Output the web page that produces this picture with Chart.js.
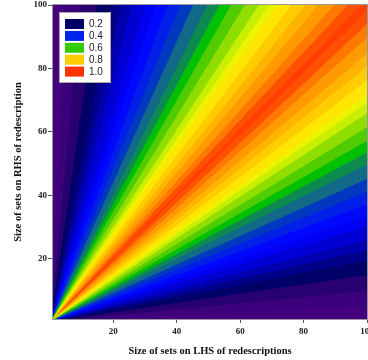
<!DOCTYPE html>
<html>
<head>
<meta charset="utf-8">
<script src="https://cdn.jsdelivr.net/npm/chart.js@4.4.1/dist/chart.umd.min.js"></script>
<style>
  html, body { margin: 0; padding: 0; background: #fff; overflow: hidden; }
  #wrap { width: 368px; height: 360px; overflow: hidden; }
</style>
</head>
<body>
<div id="wrap"><canvas id="myChart" width="374" height="360"></canvas></div>
<script>
// contour bands of the ratio smaller set / larger set
const bandEdges = [0, 0.05, 0.096, 0.147, 0.193, 0.225, 0.258, 0.3, 0.333, 0.37, 0.41, 0.45, 0.495, 0.533, 0.57, 0.613, 0.657, 0.69, 0.715, 0.76, 0.804, 0.845, 0.895, 0.938, 0.98, 1];
const bandColors = [
  "#44007f", "#3d007d", "#28006f", "#000068", "#000088", "#0000b0", "#0000d4", "#0000f2",
  "#0008ff", "#0020e8", "#0038c0", "#106a88", "#0d8a50", "#00c000", "#50cc00", "#90dd00",
  "#c8ee00", "#ecf400", "#ffe600", "#ffcc00", "#ffb400", "#ff9a00", "#ff7800", "#ff5000",
  "#ff4000",
];
const tickValues = [20, 40, 60, 80, 100];
const axisMin = 1;
const axisMax = 100;
const legendLabels = ["0.2", "0.4", "0.6", "0.8", "1.0"];
const legendColors = ["#000066", "#0022ee", "#33cc00", "#ffcc00", "#ff3300"];

const serif = "'Liberation Serif', 'Times New Roman', serif";
const sans = "'Liberation Sans', Arial, sans-serif";

const datasets = [];
for (let i = 0; i < bandEdges.length - 1; i++) {
  const a = bandEdges[i];
  const b = bandEdges[i + 1];
  const col = bandColors[i];
  // wedge above the diagonal (RHS larger) and below it (LHS larger)
  const upper = [
    { x: 0, y: 0 },
    { x: axisMax * a, y: axisMax },
    { x: axisMax * b, y: axisMax },
    { x: 0, y: 0 },
  ];
  const lower = [
    { x: 0, y: 0 },
    { x: axisMax, y: axisMax * a },
    { x: axisMax, y: axisMax * b },
    { x: 0, y: 0 },
  ];
  [upper, lower].forEach((pts) => {
    datasets.push({
      data: pts,
      showLine: true,
      fill: "shape",
      backgroundColor: col,
      borderColor: col,
      borderWidth: 1,
      pointRadius: 0,
      tension: 0,
      clip: 0,
    });
  });
}

const boxAndLegend = {
  id: "boxAndLegend",
  afterDraw(chart) {
    const { ctx, chartArea } = chart;
    ctx.save();
    ctx.strokeStyle = "#999";
    ctx.lineWidth = 1;
    ctx.strokeRect(chartArea.left - 0.5, chartArea.top - 0.5, chartArea.right - chartArea.left + 1, chartArea.bottom - chartArea.top + 1);

    const lx = chartArea.left + 6;
    const ly = chartArea.top + 7;
    ctx.fillStyle = "#fff";
    ctx.fillRect(lx, ly, 51, 70);
    ctx.strokeStyle = "#aaa";
    ctx.strokeRect(lx + 0.5, ly + 0.5, 51, 70);
    ctx.font = "10px " + sans;
    ctx.textBaseline = "middle";
    legendLabels.forEach((lab, i) => {
      const cy = ly + 12 + i * 11.9;
      ctx.fillStyle = legendColors[i];
      ctx.fillRect(lx + 6, cy - 5, 19, 10);
      ctx.fillStyle = "#222";
      ctx.fillText(lab, lx + 30, cy + 0.5);
    });
    ctx.restore();
  },
};

new Chart(document.getElementById("myChart"), {
  type: "scatter",
  data: { datasets: datasets },
  options: {
    responsive: false,
    animation: false,
    events: [],
    layout: { padding: 0 },
    plugins: {
      legend: { display: false },
      tooltip: { enabled: false },
    },
    scales: {
      x: {
        type: "linear",
        min: axisMin,
        max: axisMax,
        afterBuildTicks: (s) => {
          s.ticks = tickValues.map((v) => ({ value: v }));
        },
        afterFit: (s) => {
          s.height = 41;
          s.paddingLeft = 0;
          s.paddingRight = 7;
        },
        grid: { drawOnChartArea: false, tickLength: 4, color: "#555" },
        border: { display: false },
        ticks: {
          font: { family: serif, weight: "bold", size: 9 },
          color: "#222",
          padding: 3,
          maxRotation: 0,
        },
        title: {
          display: true,
          text: "Size of sets on LHS of redescriptions",
          font: { family: serif, weight: "bold", size: 10.5, lineHeight: 1 },
          color: "#111",
          padding: { top: 0, bottom: 3 },
        },
      },
      y: {
        type: "linear",
        min: axisMin,
        max: axisMax,
        afterBuildTicks: (s) => {
          s.ticks = tickValues.map((v) => ({ value: v }));
        },
        afterFit: (s) => {
          s.width = 53;
          s.paddingTop = 5;
          s.paddingBottom = 0;
        },
        grid: { drawOnChartArea: false, tickLength: 5, color: "#555" },
        border: { display: false },
        ticks: {
          font: { family: serif, weight: "bold", size: 9 },
          color: "#222",
          padding: 1,
        },
        title: {
          display: true,
          text: "Size of sets on RHS of redescription",
          font: { family: serif, weight: "bold", size: 10.5, lineHeight: 1 },
          color: "#111",
          padding: { top: 13, bottom: 0 },
        },
      },
    },
  },
  plugins: [boxAndLegend],
});
</script>
</body>
</html>
